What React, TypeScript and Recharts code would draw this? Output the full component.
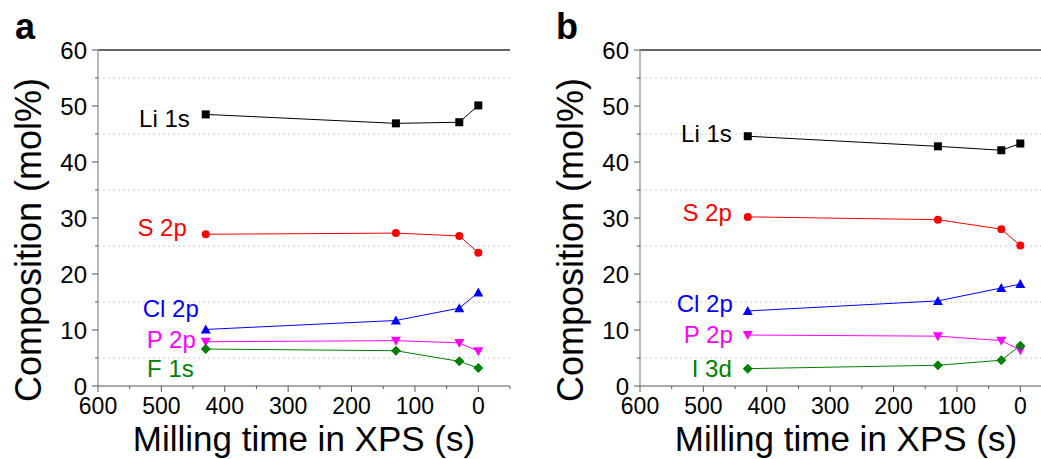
import { CartesianGrid, LabelList, Line, LineChart, ReferenceLine, XAxis, YAxis } from "recharts";

const TIMES = [430, 130, 30, 0];
const X_TICKS = [600, 550, 500, 450, 400, 350, 300, 250, 200, 150, 100, 50, 0, -50];
const Y_TICKS = [0, 5, 10, 15, 20, 25, 30, 35, 40, 45, 50, 55, 60];
const GRID_Y = [5, 15, 25, 35, 45, 55];

// panel a
const A_LI = [48.5, 46.9, 47.1, 50.1];
const A_S = [27.1, 27.3, 26.8, 23.8];
const A_CL = [10.1, 11.7, 13.9, 16.7];
const A_P = [7.9, 8.1, 7.7, 6.2];
const A_F = [6.6, 6.3, 4.4, 3.2];

// panel b
const B_LI = [44.6, 42.8, 42.1, 43.3];
const B_S = [30.2, 29.7, 28.0, 25.1];
const B_CL = [13.4, 15.2, 17.5, 18.2];
const B_P = [9.1, 8.9, 8.1, 6.4];
const B_I = [3.1, 3.7, 4.6, 7.2];

const FONT = '"Liberation Sans", Arial, sans-serif';

const rowsA = TIMES.map((t, i) => ({ t, li: A_LI[i], s: A_S[i], cl: A_CL[i], p: A_P[i], x: A_F[i] }));
const rowsB = TIMES.map((t, i) => ({ t, li: B_LI[i], s: B_S[i], cl: B_CL[i], p: B_P[i], x: B_I[i] }));

type Shape = "square" | "circle" | "up" | "down" | "diamond";

interface Series {
  key: string;
  name: string;
  color: string;
  shape: Shape;
  dx: number;
  dy: number;
}

const marker = (shape: Shape, color: string) => (props: any) => {
  const { cx, cy, key } = props;
  if (cx == null || cy == null) return <g key={key} />;
  switch (shape) {
    case "square":
      return <rect key={key} x={cx - 4} y={cy - 4} width={8} height={8} fill={color} />;
    case "circle":
      return <circle key={key} cx={cx} cy={cy} r={4} fill={color} />;
    case "up":
      return <polygon key={key} points={`${cx},${cy - 5} ${cx + 5},${cy + 4} ${cx - 5},${cy + 4}`} fill={color} />;
    case "down":
      return <polygon key={key} points={`${cx},${cy + 5} ${cx + 5},${cy - 4} ${cx - 5},${cy - 4}`} fill={color} />;
    default:
      return <polygon key={key} points={`${cx},${cy - 5} ${cx + 5},${cy} ${cx},${cy + 5} ${cx - 5},${cy}`} fill={color} />;
  }
};

const seriesA: Series[] = [
  { key: "li", name: "Li 1s", color: "#000000", shape: "square", dx: -16, dy: 13 },
  { key: "s", name: "S 2p", color: "#ff0000", shape: "circle", dx: -19, dy: 2 },
  { key: "cl", name: "Cl 2p", color: "#0000ff", shape: "up", dx: -7, dy: -12 },
  { key: "p", name: "P 2p", color: "#ff00ff", shape: "down", dx: -10, dy: 6 },
  { key: "x", name: "F 1s", color: "#008000", shape: "diamond", dx: -12, dy: 28 },
];

const seriesB: Series[] = [
  { key: "li", name: "Li 1s", color: "#000000", shape: "square", dx: -16, dy: 6 },
  { key: "s", name: "S 2p", color: "#ff0000", shape: "circle", dx: -16, dy: 4 },
  { key: "cl", name: "Cl 2p", color: "#0000ff", shape: "up", dx: -15, dy: 1 },
  { key: "p", name: "P 2p", color: "#ff00ff", shape: "down", dx: -15, dy: 8 },
  { key: "x", name: "I 3d", color: "#008000", shape: "diamond", dx: -16, dy: 8 },
];

const XTick = (props: any) => {
  const { x, y, payload } = props;
  const v = payload.value;
  const major = v % 100 === 0 && v >= 0;
  return (
    <g>
      <line x1={x} y1={y} x2={x} y2={y + (major ? 6 : 3)} stroke="#555" strokeWidth={1} />
      {major && (
        <text x={x} y={y + 28} textAnchor="middle" fontSize={23} fontFamily={FONT} fill="#000">
          {v}
        </text>
      )}
    </g>
  );
};

const YTick = (props: any) => {
  const { x, y, payload } = props;
  const v = payload.value;
  const major = v % 10 === 0;
  return (
    <g>
      <line x1={x - (major ? 6 : 3)} y1={y} x2={x} y2={y} stroke="#555" strokeWidth={1} />
      {major && (
        <text x={x - 11} y={y} dy="0.36em" textAnchor="end" fontSize={24} fontFamily={FONT} fill="#000">
          {v}
        </text>
      )}
    </g>
  );
};

const RTick = (props: any) => {
  const { x, y, payload } = props;
  const major = payload.value % 10 === 0;
  return <line x1={x - (major ? 6 : 3)} y1={y} x2={x} y2={y} stroke="#666" strokeWidth={1} />;
};

function Panel({ rows, series, width, yWidth, right }: { rows: any[]; series: Series[]; width: number; yWidth: number; right: number }) {
  return (
    <LineChart width={width} height={459} data={rows} margin={{ top: 50, right, bottom: 0, left: 0 }}>
      <CartesianGrid horizontalValues={GRID_Y} vertical={false} stroke="#c8c8c8" strokeDasharray="2 3" />
      <XAxis
        dataKey="t"
        type="number"
        domain={[-50, 600]}
        allowDataOverflow
        reversed
        ticks={X_TICKS}
        interval={0}
        height={73}
        tickSize={0}
        tickMargin={0}
        tickLine={false}
        axisLine={{ stroke: "#555", strokeWidth: 1 }}
        tick={<XTick />}
        label={{
          content: (p: any) => {
            const vb = p.viewBox;
            return (
              <text x={vb.x + vb.width / 2} y={451} textAnchor="middle" fontSize={35} fontFamily={FONT} fill="#000">
                Milling time in XPS (s)
              </text>
            );
          },
        }}
      />
      <YAxis
        type="number"
        domain={[0, 60]}
        allowDataOverflow
        ticks={Y_TICKS}
        interval={0}
        width={yWidth}
        tickSize={0}
        tickMargin={0}
        tickLine={false}
        axisLine={{ stroke: "#a0a0a0", strokeWidth: 1.5 }}
        tick={<YTick />}
        label={{
          content: (p: any) => {
            const vb = p.viewBox;
            const cx = vb.x + vb.width - 57;
            const cy = 240;
            return (
              <text x={cx} y={cy} transform={`rotate(-90 ${cx} ${cy})`} textAnchor="middle" fontSize={36} fontFamily={FONT} fill="#000">
                Composition (mol%)
              </text>
            );
          },
        }}
      />
      <YAxis
        yAxisId="r"
        orientation="right"
        type="number"
        domain={[0, 60]}
        ticks={Y_TICKS}
        interval={0}
        width={0}
        tickSize={0}
        tickMargin={0}
        tickLine={false}
        axisLine={{ stroke: "#a0a0a0", strokeWidth: 1 }}
        tick={<RTick />}
      />
      <ReferenceLine y={60} stroke="#333" strokeWidth={1.5} />
      {series.map((s) => (
        <Line
          key={s.key}
          dataKey={s.key}
          stroke={s.color}
          strokeWidth={1}
          dot={marker(s.shape, s.color)}
          activeDot={false}
          isAnimationActive={false}
        >
          <LabelList
            dataKey={s.key}
            content={(p: any) =>
              p.index === 0 ? (
                <text x={p.x + s.dx} y={p.y + s.dy} textAnchor="end" fontSize={24} fontFamily={FONT} fill={s.color}>
                  {s.name}
                </text>
              ) : null
            }
          />
        </Line>
      ))}
    </LineChart>
  );
}

export default function App() {
  return (
    <div style={{ position: "absolute", left: 0, top: 0, width: 1041, height: 459, overflow: "hidden", background: "#fff" }}>
      <div style={{ position: "absolute", left: 0, top: 0 }}>
        <Panel rows={rowsA} series={seriesA} width={520} yWidth={98} right={10} />
      </div>
      <div style={{ position: "absolute", left: 530, top: 0 }}>
        <Panel rows={rowsB} series={seriesB} width={530} yWidth={110} right={8} />
      </div>
      <svg width={1041} height={60} style={{ position: "absolute", left: 0, top: 0 }}>
        <text x={15} y={39} fontSize={36} fontWeight="bold" fontFamily={FONT} fill="#000">
          a
        </text>
        <text x={556} y={39} fontSize={36} fontWeight="bold" fontFamily={FONT} fill="#000">
          b
        </text>
      </svg>
    </div>
  );
}
